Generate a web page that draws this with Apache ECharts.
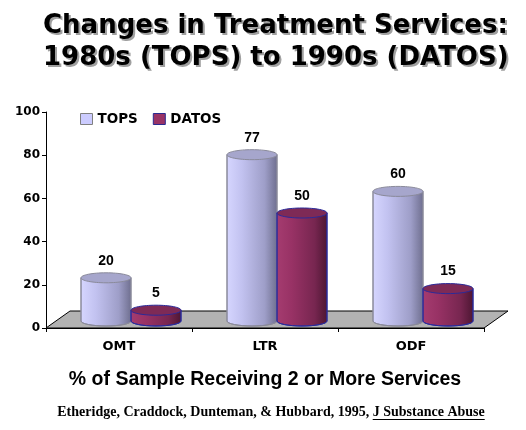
<!DOCTYPE html>
<html>
<head>
<meta charset="utf-8">
<script src="https://cdn.jsdelivr.net/npm/echarts@6/dist/echarts.min.js"></script>
<style>
  html, body { margin: 0; padding: 0; background: #fff; }
  #chart { width: 526px; height: 430px; }
</style>
</head>
<body>
<div id="chart"></div>
<script>
var categories = ['OMT', 'LTR', 'ODF'];
var topsValues = [20, 77, 60];
var datosValues = [5, 50, 15];
var seriesNames = ['TOPS', 'DATOS'];

var myChart = echarts.init(document.getElementById('chart'));

// 3D look: depth shift of the cylinders and of the floor
var DX = 12, DY = 7;
var R = 25, RY = 5;

function cylinder(side, body, topFill, stroke) {
    return function (params, api) {
        var cat = api.value(0);
        var val = api.value(1);
        var base = api.coord([cat, 0]);
        var top = api.coord([cat, val]);
        var cx = base[0] + DX + side * R;
        var yb = base[1] - DY;
        var yt = top[1] - DY;
        var path = 'M' + (cx - R) + ',' + yt + ' L' + (cx - R) + ',' + yb +
            ' A' + R + ',' + RY + ' 0 0 0 ' + (cx + R) + ',' + yb +
            ' L' + (cx + R) + ',' + yt + ' Z';
        return {
            type: 'group',
            children: [{
                type: 'path',
                shape: { pathData: path },
                style: { fill: body, stroke: stroke, lineWidth: 1 }
            }, {
                type: 'ellipse',
                shape: { cx: cx, cy: yt, rx: R, ry: RY },
                style: { fill: topFill, stroke: stroke, lineWidth: 1 }
            }, {
                type: 'text',
                x: cx,
                y: yt - RY - 5,
                style: {
                    text: String(val),
                    align: 'center',
                    verticalAlign: 'bottom',
                    font: 'bold 14px "Liberation Sans"',
                    fill: '#000'
                }
            }]
        };
    };
}

var topsBody = new echarts.graphic.LinearGradient(0, 0, 1, 0, [
    { offset: 0, color: '#d6d6ff' },
    { offset: 0.3, color: '#c2c2f0' },
    { offset: 0.75, color: '#9e9ec8' },
    { offset: 1, color: '#6e6e8e' }
]);
var datosBody = new echarts.graphic.LinearGradient(0, 0, 1, 0, [
    { offset: 0, color: '#a53c70' },
    { offset: 0.3, color: '#983265' },
    { offset: 0.75, color: '#772650' },
    { offset: 1, color: '#4c1632' }
]);

var titleText = 'Changes in Treatment Services:\n1980s (TOPS) to 1990s (DATOS)';
function titleStyle(color) {
    return {
        fontFamily: 'DejaVu Sans',
        fontWeight: 'bold',
        fontSize: 26,
        lineHeight: 32,
        color: color
    };
}

var option = {
    backgroundColor: '#fff',
    animation: false,
    // grey copy first, black on top: the drop shadow
    title: [{
        text: titleText,
        left: 45,
        top: 12,
        padding: 0,
        textStyle: titleStyle('#a0a0a0')
    }, {
        text: titleText,
        left: 43,
        top: 10,
        padding: 0,
        textStyle: titleStyle('#000')
    }],
    legend: {
        left: 75,
        top: 107,
        itemWidth: 12,
        itemHeight: 11,
        itemGap: 15,
        icon: 'rect',
        textStyle: {
            fontFamily: 'DejaVu Sans',
            fontWeight: 'bold',
            fontSize: 13.5,
            color: '#000'
        },
        data: [
            { name: 'TOPS', itemStyle: { color: '#ccccff', borderColor: '#808080', borderWidth: 1 } },
            { name: 'DATOS', itemStyle: { color: '#993366', borderColor: '#2a2a90', borderWidth: 1 } }
        ]
    },
    grid: {
        left: 46,
        right: 42,
        top: 112,
        bottom: 102
    },
    xAxis: {
        type: 'category',
        data: categories,
        boundaryGap: true,
        axisLine: { lineStyle: { color: '#000', width: 1 } },
        axisTick: { show: true, length: 4, lineStyle: { color: '#000' } },
        axisLabel: {
            margin: 12,
            fontFamily: 'DejaVu Sans',
            fontWeight: 'bold',
            fontSize: 13,
            color: '#000'
        },
        name: '% of Sample Receiving 2 or More Services',
        nameLocation: 'middle',
        nameGap: 42,
        nameTextStyle: {
            fontFamily: 'Liberation Sans',
            fontWeight: 'bold',
            fontSize: 19.5,
            color: '#000'
        }
    },
    yAxis: {
        type: 'value',
        min: 0,
        max: 100,
        interval: 20,
        axisLine: { show: true, lineStyle: { color: '#000', width: 1 } },
        axisTick: { show: true, length: 4, lineStyle: { color: '#000' } },
        splitLine: { show: false },
        axisLabel: {
            margin: 6,
            fontFamily: 'DejaVu Sans',
            fontWeight: 'bold',
            fontSize: 12,
            color: '#000'
        }
    },
    series: [{
        name: 'floor',
        type: 'custom',
        z: 1,
        silent: true,
        clip: false,
        data: [[0, 0]],
        renderItem: function (params, api) {
            var cs = params.coordSys;
            var x0 = cs.x, x1 = cs.x + cs.width, y0 = cs.y + cs.height;
            var bx = 2 * DX, by = 2 * DY + 3;
            return {
                type: 'polygon',
                shape: { points: [[x0, y0], [x0 + bx, y0 - by], [x1 + bx, y0 - by], [x1, y0]] },
                style: { fill: '#b2b2b2', stroke: '#000', lineWidth: 1 }
            };
        }
    }, {
        name: seriesNames[0],
        type: 'custom',
        z: 2,
        clip: false,
        itemStyle: { color: '#ccccff', borderColor: '#808080' },
        data: topsValues.map(function (v, i) { return [i, v]; }),
        renderItem: cylinder(-1, topsBody, '#a6a6cc', '#8a8a9a')
    }, {
        name: seriesNames[1],
        type: 'custom',
        z: 3,
        clip: false,
        itemStyle: { color: '#993366', borderColor: '#2a2a90' },
        data: datosValues.map(function (v, i) { return [i, v]; }),
        renderItem: cylinder(1, datosBody, '#7e2a56', '#2a2a9a')
    }]
};

myChart.setOption(option);

// citation line at the bottom, journal name underlined
var citeFont = 'bold 14px "Liberation Serif"';
var citeA = 'Etheridge, Craddock, Dunteman, & Hubbard, 1995, ';
var citeB = 'J Substance Abuse';
var ctx = document.createElement('canvas').getContext('2d');
ctx.font = citeFont;
var wA = ctx.measureText(citeA).width;
var wB = ctx.measureText(citeB).width;
var startX = 271 - (wA + wB) / 2;
var citeY = 412;
myChart.setOption({
    graphic: [{
        type: 'text',
        x: startX,
        y: citeY,
        style: { text: citeA, font: citeFont, fill: '#000', align: 'left', verticalAlign: 'middle' }
    }, {
        type: 'text',
        x: startX + wA,
        y: citeY,
        style: { text: citeB, font: citeFont, fill: '#000', align: 'left', verticalAlign: 'middle' }
    }, {
        type: 'line',
        shape: { x1: startX + wA, y1: citeY + 7.5, x2: startX + wA + wB, y2: citeY + 7.5 },
        style: { stroke: '#000', lineWidth: 1 }
    }]
});
</script>
</body>
</html>
